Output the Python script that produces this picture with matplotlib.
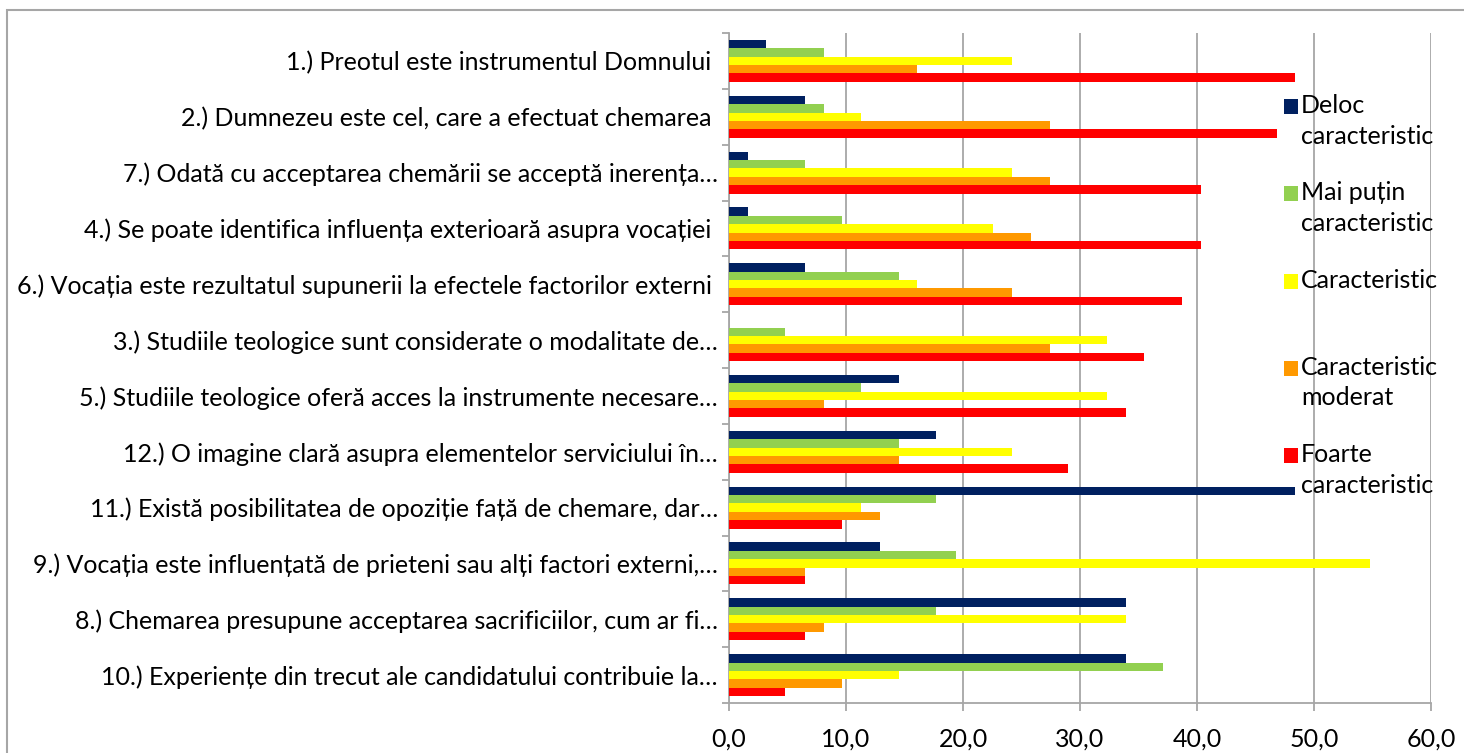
import matplotlib
matplotlib.use("Agg")
import matplotlib.pyplot as plt
import matplotlib.patches as mpatches
from matplotlib.ticker import FuncFormatter, FixedLocator
import numpy as np

# ── Data (percent of respondents) ─────────────────────────────────────────────
statements = [
    "1.) Preotul este instrumentul Domnului ",
    "2.) Dumnezeu este cel, care a efectuat chemarea ",
    "7.) Odată cu acceptarea chemării se acceptă inerența…",
    "4.) Se poate identifica influența exterioară asupra vocației ",
    "6.) Vocația este rezultatul supunerii la efectele factorilor externi ",
    "3.) Studiile teologice sunt considerate o modalitate de…",
    "5.) Studiile teologice oferă acces la instrumente necesare…",
    "12.) O imagine clară asupra elementelor serviciului în…",
    "11.) Există posibilitatea de opoziție față de chemare, dar…",
    "9.) Vocația este influențată de prieteni sau alți factori externi,…",
    "8.) Chemarea presupune acceptarea sacrificiilor, cum ar fi…",
    "10.) Experiențe din trecut ale candidatului contribuie la…",
]

series_names = ["Deloc\ncaracteristic", "Mai puțin\ncaracteristic",
                "Caracteristic", "Caracteristic\nmoderat",
                "Foarte\ncaracteristic"]

deloc    = [3.2, 6.5, 1.6, 1.6, 6.5, 0.0, 14.5, 17.7, 48.4, 12.9, 33.9, 33.9]
mai_putin = [8.1, 8.1, 6.5, 9.7, 14.5, 4.8, 11.3, 14.5, 17.7, 19.4, 17.7, 37.1]
caract   = [24.2, 11.3, 24.2, 22.6, 16.1, 32.3, 32.3, 24.2, 11.3, 54.8, 33.9, 14.5]
moderat  = [16.1, 27.4, 27.4, 25.8, 24.2, 27.4, 8.1, 14.5, 12.9, 6.5, 8.1, 9.7]
foarte   = [48.4, 46.8, 40.3, 40.3, 38.7, 35.5, 33.9, 29.0, 9.7, 6.5, 6.5, 4.8]

series = [deloc, mai_putin, caract, moderat, foarte]
colors = ["#002060", "#92D050", "#FFFF00", "#FF9900", "#FF0000"]

# ── Style ─────────────────────────────────────────────────────────────────────
plt.rcParams["font.family"] = ["Lato", "DejaVu Sans"]
FS = 18
GRID = "#A6A6A6"

W, H = 1464, 753
fig = plt.figure(figsize=(W / 100, H / 100), dpi=100)
ax = fig.add_axes([729 / W, 1 - 703 / H, (1431 - 729) / W, (703 - 33) / H])

# outer chart frame (cut at right/bottom like the reference)
fig.patches.append(mpatches.Rectangle((7 / W, -0.1), 1.2, 1 - 10 / H + 0.1,
                                      transform=fig.transFigure,
                                      fill=False, edgecolor=GRID, lw=1.5))

y = np.arange(len(statements))
h = 0.15
for j, vals in enumerate(series):
    ax.barh(y + (j - 2) * h, vals, height=h, color=colors[j],
            edgecolor="none", zorder=3)

ax.set_xlim(0, 60)
ax.set_ylim(len(statements) - 0.5, -0.5)

ax.xaxis.set_major_locator(FixedLocator(np.arange(0, 61, 10)))
ax.xaxis.set_major_formatter(FuncFormatter(lambda v, p: f"{v:.1f}".replace(".", ",")))
ax.grid(axis="x", color=GRID, lw=1.3, zorder=0)

ax.set_yticks(y)
ax.set_yticklabels(statements)
ax.set_yticks(np.arange(-0.5, len(statements)), minor=True)
ax.tick_params(axis="y", which="major", length=0, pad=8, labelsize=FS)
ax.tick_params(axis="y", which="minor", length=5, color=GRID, width=1.3)
ax.tick_params(axis="x", length=6, color=GRID, width=1.3, pad=12, labelsize=FS)

for s in ["top", "right"]:
    ax.spines[s].set_visible(False)
for s in ["left", "bottom"]:
    ax.spines[s].set_color(GRID)
    ax.spines[s].set_linewidth(1.3)

# ── Legend (drawn by hand: marker aligned with first text line) ───────────────
for j, name in enumerate(series_names):
    yc = 107 + 87.3 * j
    fig.patches.append(mpatches.Rectangle((1284 / W, 1 - (yc + 7) / H), 14 / W, 15 / H,
                                          transform=fig.transFigure,
                                          facecolor=colors[j], edgecolor="none", zorder=5))
    fig.text(1301 / W, 1 - (yc - 13) / H, name, fontsize=FS, va="top", ha="left",
             linespacing=1.4, zorder=6)

fig.savefig("out.png", dpi=100)
